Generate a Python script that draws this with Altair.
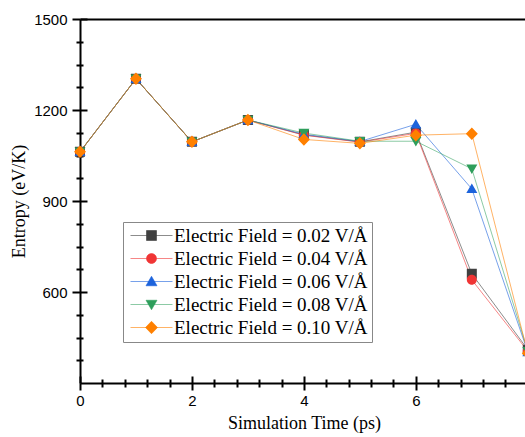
import altair as alt
import pandas as pd

# ---- data ----
times = [0, 1, 2, 3, 4, 5, 6, 7, 8]
series_names = [
    "Electric Field = 0.02 V/Å",
    "Electric Field = 0.04 V/Å",
    "Electric Field = 0.06 V/Å",
    "Electric Field = 0.08 V/Å",
    "Electric Field = 0.10 V/Å",
]
entropy_002 = [1062, 1303, 1095, 1167, 1118, 1095, 1127, 660, 410]
entropy_004 = [1062, 1303, 1095, 1167, 1117, 1094, 1123, 640, 405]
entropy_006 = [1062, 1303, 1095, 1167, 1120, 1096, 1153, 940, 402]
entropy_008 = [1062, 1303, 1095, 1167, 1124, 1097, 1097, 1006, 405]
entropy_010 = [1062, 1303, 1095, 1167, 1103, 1090, 1117, 1122, 398]
all_series = [entropy_002, entropy_004, entropy_006, entropy_008, entropy_010]

x_major = [0, 2, 4, 6]
x_minor = [0.4, 0.8, 1.2, 1.6, 2.4, 2.8, 3.2, 3.6, 4.4, 4.8, 5.2, 5.6, 6.4, 6.8, 7.2, 7.6]
y_major = [600, 900, 1200, 1500]
y_minor = [375, 450, 525, 675, 750, 825, 975, 1050, 1125, 1275, 1350, 1425]

# ---- styles ----
marker_colors = ["#404040", "#f03535", "#1c63dc", "#2e9e5b", "#ff8000"]
line_colors = [
    "rgba(64,64,64,0.6)",
    "rgba(240,53,53,0.6)",
    "rgba(28,99,220,0.6)",
    "rgba(46,158,91,0.55)",
    "rgba(255,128,0,0.6)",
]
LINE = "M-4.2,0H4.2"
shape_paths = [
    LINE + "M-1,-1H1V1H-1Z",
    LINE + "M1,0A1,1,0,1,1,-1,0A1,1,0,1,1,1,0Z",
    LINE + "M0,-1.05L1.1,0.85H-1.1Z",
    LINE + "M0,1.05L1.1,-0.85H-1.1Z",
    LINE + "M0,-1.25L1.2,0L0,1.25L-1.2,0Z",
]

rows = []
for name, vals in zip(series_names, all_series):
    for t, v in zip(times, vals):
        rows.append({"time": t, "entropy": v, "series": name})
df = pd.DataFrame(rows)

xscale = alt.Scale(domain=[0, 7.95], nice=False, zero=False)
yscale = alt.Scale(domain=[300, 1500], nice=False, zero=False)
color_scale = alt.Scale(domain=series_names, range=marker_colors)
stroke_scale = alt.Scale(domain=series_names, range=line_colors)
shape_scale = alt.Scale(domain=series_names, range=shape_paths)

AX = dict(domainColor="black", tickColor="black", tickWidth=2, domainWidth=2,
          grid=False, zindex=0, labelFlush=False)


def helper_axis(orient, values, size, offset):
    return alt.Axis(orient=orient, values=values, tickSize=size, offset=offset,
                    labels=False, domain=False, title=None, **AX)


x_main = alt.Axis(orient="bottom", values=x_major, tickSize=7, format="d",
                  labelFont="Liberation Sans", labelFontSize=15, labelPadding=3,
                  labelColor="black", title="Simulation Time (ps)",
                  titleFont="Liberation Serif", titleFontSize=18,
                  titleFontWeight="normal", titleColor="black", titlePadding=6,
                  titleX=224, **AX)
y_main = alt.Axis(orient="left", values=y_major, tickSize=8, format="d",
                  labelFont="Liberation Sans", labelFontSize=15, labelPadding=5,
                  labelColor="black", title="Entropy (eV/K)",
                  titleFont="Liberation Serif", titleFontSize=18,
                  titleFontWeight="normal", titleColor="black", titlePadding=5,
                  **AX)

base = alt.Chart(df)

# legend source layer (its own marks sit far outside the plotted range)
leg = dict(title=None, orient="none", legendX=43, legendY=203)
legend_layer = base.transform_calculate(xo="-100").mark_point(
    filled=True, size=100, strokeWidth=1, opacity=1
).encode(
    x=alt.X("xo:Q", scale=xscale, axis=None),
    y=alt.Y("entropy:Q", scale=yscale, axis=None),
    color=alt.Color("series:N", scale=color_scale, legend=alt.Legend(**leg)),
    stroke=alt.Stroke("series:N", scale=stroke_scale, legend=alt.Legend(**leg)),
    shape=alt.Shape("series:N", scale=shape_scale, legend=alt.Legend(**leg)),
)

lines = base.mark_line(strokeWidth=1).encode(
    x=alt.X("time:Q", scale=xscale, axis=x_main),
    y=alt.Y("entropy:Q", scale=yscale, axis=y_main),
    stroke=alt.Stroke("series:N", scale=stroke_scale, legend=None),
    detail="series:N",
)

points = base.mark_point(filled=True, size=100, opacity=1).encode(
    x=alt.X("time:Q", scale=xscale, axis=helper_axis("bottom", x_minor, 4, 0)),
    y=alt.Y("entropy:Q", scale=yscale, axis=helper_axis("left", y_minor, 4, 0)),
    color=alt.Color("series:N", scale=color_scale, legend=None),
    shape=alt.Shape("series:N", scale=shape_scale, legend=None),
)

inner_major = base.mark_point(opacity=0).encode(
    x=alt.X("time:Q", scale=xscale, axis=helper_axis("bottom", x_major, 7, -7)),
    y=alt.Y("entropy:Q", scale=yscale, axis=helper_axis("left", y_major, 7, -7)),
)
inner_minor = base.mark_point(opacity=0).encode(
    x=alt.X("time:Q", scale=xscale, axis=helper_axis("bottom", x_minor, 4, -4)),
    y=alt.Y("entropy:Q", scale=yscale, axis=helper_axis("left", y_minor, 3, -3)),
)
top_frame = base.mark_point(opacity=0).encode(
    x=alt.X("time:Q", scale=xscale,
            axis=alt.Axis(orient="top", ticks=False, labels=False, title=None,
                          domain=True, domainColor="black", domainWidth=2,
                          grid=False, zindex=0)),
    y=alt.Y("entropy:Q", scale=yscale, axis=None),
)

chart = (
    alt.layer(legend_layer, lines, points, inner_major, inner_minor, top_frame)
    .resolve_axis(x="independent", y="independent")
    .resolve_scale(x="shared", y="shared")
    .properties(
        width=445,
        height=364,
        padding={"left": 80, "top": 19, "right": 0, "bottom": 54},
        autosize=alt.AutoSizeParams(type="none"),
        background="white",
    )
    .configure_view(stroke=None)
    .configure_legend(
        labelFont="Liberation Serif",
        labelFontSize=19,
        labelColor="black",
        labelLimit=400,
        symbolSize=100,
        symbolStrokeWidth=1,
        symbolOffset=15,
        labelOffset=13,
        rowPadding=3,
        padding=4,
        strokeColor="#888888",
        fillColor="white",
        cornerRadius=0,
    )
)

chart.save("out.html", embed_options={"renderer": "svg", "actions": False})
